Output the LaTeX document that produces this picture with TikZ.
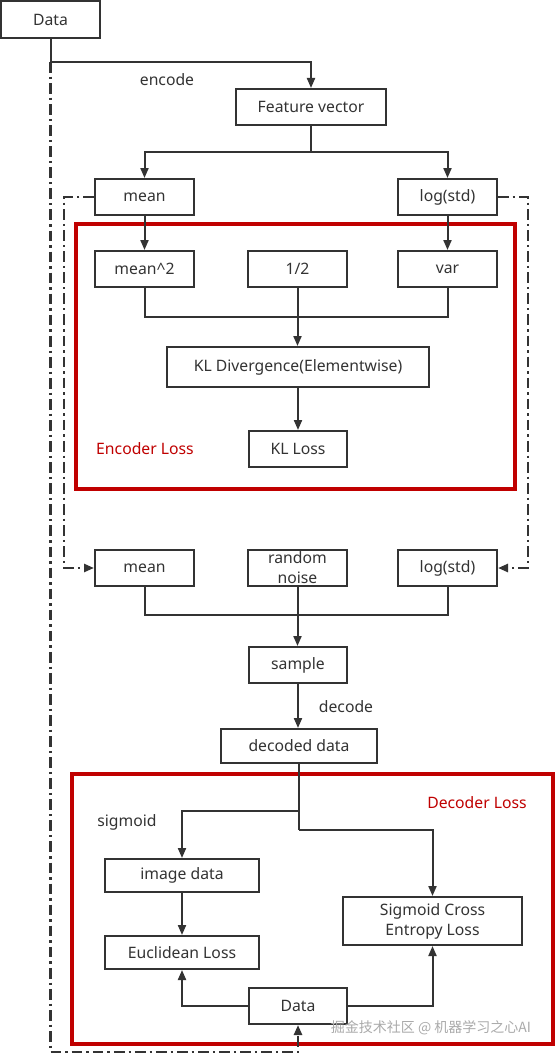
\documentclass[tikz,border=0pt]{standalone}
\usepackage{fontspec}
\setmainfont{Noto Sans}
\newfontfamily\cjk{Noto Sans CJK SC}
\usetikzlibrary{arrows.meta,calc}
\definecolor{dk}{RGB}{51,51,51}
\definecolor{rd}{RGB}{192,0,0}
\definecolor{wm}{RGB}{170,170,170}
\def\u{0.75pt}
\tikzset{
  box/.style={draw=dk, line width=1.5pt, fill=white, text=dk, inner sep=0pt, align=center, font=\fontsize{11.8}{15}\selectfont},
  conn/.style={draw=dk, line width=1.5pt},
  arr/.style={conn, -{Triangle[length=7.5pt,width=6pt]}},
  dd/.style={draw=dk, line width=1.8pt, dash pattern=on 8pt off 3pt on 1.8pt off 3pt},
  redbox/.style={draw=rd, line width=2.8pt},
  lbl/.style={text=dk, font=\fontsize{11.8}{15}\selectfont, inner sep=0pt},
  rlbl/.style={text=rd, font=\fontsize{11.8}{15}\selectfont, inner sep=0pt}
}
\begin{document}
\begin{tikzpicture}[x=0.75pt,y=-0.75pt]
\path[fill=white] (0,0) rectangle (557,1056);
\useasboundingbox (0,0) rectangle (557,1056);

% red boxes
\draw[redbox] (76,224) rectangle (515,489);
\draw[redbox] (72,774) rectangle (553,1044);

% nodes
\node[box, minimum width=99*\u, minimum height=37*\u] (data) at (50.5,19.5) {Data};
\node[box, minimum width=150*\u, minimum height=36*\u] (fv) at (311,107) {Feature vector};
\node[box, minimum width=99*\u, minimum height=36*\u] (mean1) at (144.5,197) {mean};
\node[box, minimum width=99*\u, minimum height=36*\u] (log1) at (447.5,197) {log(std)};
\node[box, minimum width=99*\u, minimum height=36*\u] (msq) at (144.5,269) {mean\^{}2};
\node[box, minimum width=99*\u, minimum height=36*\u] (half) at (297.5,269) {1/2};
\node[box, minimum width=99*\u, minimum height=36*\u] (var) at (447.5,269) {var};
\node[box, minimum width=262*\u, minimum height=40*\u] (kld) at (298,367) {KL Divergence(Elementwise)};
\node[box, minimum width=98*\u, minimum height=36*\u] (kll) at (298,449) {KL Loss};
\node[box, minimum width=99*\u, minimum height=36*\u] (mean3) at (144.5,568) {mean};
\node[box, minimum width=99*\u, minimum height=36*\u] (rn) at (297.5,568) {random\\noise};
\node[box, minimum width=99*\u, minimum height=36*\u] (log3) at (447.5,568) {log(std)};
\node[box, minimum width=98*\u, minimum height=36*\u] (smp) at (298,665) {sample};
\node[box, minimum width=156*\u, minimum height=34*\u] (dec) at (299,746) {decoded data};
\node[box, minimum width=154*\u, minimum height=33*\u] (img) at (182,875.5) {image data};
\node[box, minimum width=154*\u, minimum height=33*\u] (euc) at (182,952.5) {Euclidean Loss};
\node[box, minimum width=179*\u, minimum height=48*\u] (sce) at (432.5,921) {Sigmoid Cross\\Entropy Loss};
\node[box, minimum width=98*\u, minimum height=36*\u] (data2) at (298,1006) {Data};

% labels
\node[lbl] (lenc) at (167,80) {encode};
\node[lbl] (ldec) at (346,707) {decode};
\node[lbl] (lsig) at (127,822) {sigmoid};
\node[rlbl] (lenl) at (145,449) {Encoder Loss};
\node[rlbl] (ldel) at (477,803) {Decoder Loss};

% connectors
\draw[arr] (data.south) -- (data.south |- 0,62) -| (fv.north);
\draw[conn] (fv.south) -- (fv.south |- 0,152);
\draw[arr] (fv.south |- 0,152) -| (mean1.north);
\draw[arr] (fv.south |- 0,152) -| (log1.north);
\draw[arr] (mean1.south) -- (msq.north);
\draw[arr] (log1.south) -- (var.north);
\draw[conn] (msq.south) -- (msq.south |- 0,317) -- (var.south |- 0,317) -- (var.south);
\draw[arr] (half.south) -- (half.south |- kld.north);
\draw[arr] (kld.south) -- (kll.north);
\draw[conn] (mean3.south) -- (mean3.south |- 0,615) -- (log3.south |- 0,615) -- (log3.south);
\draw[arr] (rn.south) -- (rn.south |- smp.north);
\draw[arr] (smp.south) -- (smp.south |- dec.north);
\draw[conn] (dec.south) -- (dec.south |- 0,830);
\draw[arr] (dec.south |- 0,811) -| (img.north);
\draw[arr] (dec.south |- 0,830) -| (sce.north);
\draw[arr] (img.south) -- (euc.north);
\draw[arr] (data2.west) -| (euc.south);
\draw[arr] (data2.east) -| (sce.south);

% dash-dot connectors
\draw[dd, -{Triangle[length=7.5pt,width=6pt]}] (data.south |- 0,62) -- (data.south |- 0,1052) -| (data2.south);
\draw[dd, -{Triangle[length=7.5pt,width=6pt]}] (mean1.west) -- ++(-30,0) |- (mean3.west);
\draw[dd, -{Triangle[length=7.5pt,width=6pt]}] (log1.east) -- ++(30,0) |- (log3.east);

% watermark
\node[text=wm, font=\cjk\fontsize{10.5}{12}\selectfont, inner sep=0pt] (wmk) at (431,1028) {掘金技术社区 @ 机器学习之心AI};
\end{tikzpicture}
\end{document}
